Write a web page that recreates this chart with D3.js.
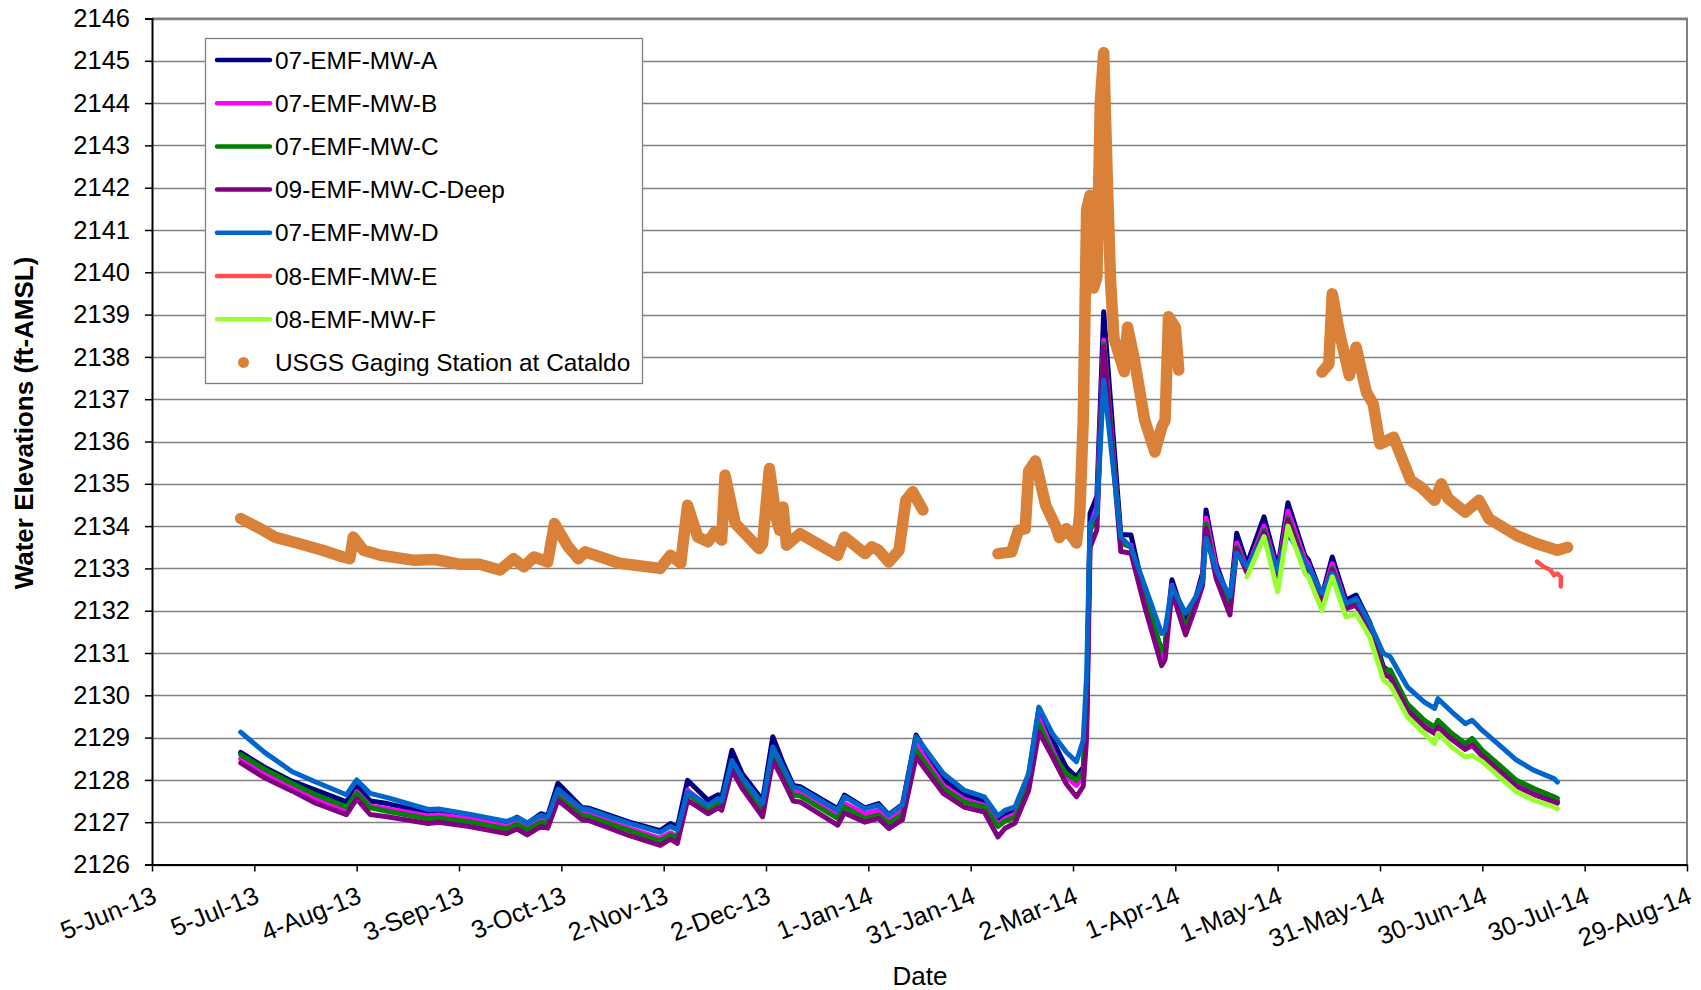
<!DOCTYPE html>
<html>
<head>
<meta charset="utf-8">
<script src="https://cdn.jsdelivr.net/npm/d3@7"></script>
<style>
body { margin: 0; background: #fff; }
text { font-family: "Liberation Sans", Arial, sans-serif; fill: #000; }
</style>
</head>
<body>
<script>
// ---- data ----
var wellDates = [
  "2013-07-01", "2013-07-08", "2013-07-16", "2013-07-23", "2013-08-01", "2013-08-04", "2013-08-08", "2013-08-13",
  "2013-08-25", "2013-08-28", "2013-09-06", "2013-09-17", "2013-09-20", "2013-09-23", "2013-09-27", "2013-09-29",
  "2013-10-02", "2013-10-09", "2013-10-11", "2013-10-23", "2013-11-01", "2013-11-04", "2013-11-06", "2013-11-09",
  "2013-11-15", "2013-11-18", "2013-11-19", "2013-11-22", "2013-11-25", "2013-12-01", "2013-12-04", "2013-12-07",
  "2013-12-10", "2013-12-12", "2013-12-23", "2013-12-25", "2013-12-31", "2014-01-04", "2014-01-07", "2014-01-11",
  "2014-01-15", "2014-01-23", "2014-01-29", "2014-02-04", "2014-02-08", "2014-02-10", "2014-02-13", "2014-02-17",
  "2014-02-20", "2014-02-24", "2014-02-28", "2014-03-03", "2014-03-05", "2014-03-06", "2014-03-07", "2014-03-09",
  "2014-03-11", "2014-03-16", "2014-03-19", "2014-03-23", "2014-03-28", "2014-03-29", "2014-03-31", "2014-04-04",
  "2014-04-07", "2014-04-09", "2014-04-10", "2014-04-13", "2014-04-17", "2014-04-19", "2014-04-22", "2014-04-27",
  "2014-05-01", "2014-05-04", "2014-05-09", "2014-05-10", "2014-05-14", "2014-05-17", "2014-05-21", "2014-05-24",
  "2014-05-28", "2014-06-01", "2014-06-03", "2014-06-08", "2014-06-13", "2014-06-16", "2014-06-17", "2014-06-21",
  "2014-06-25", "2014-06-27", "2014-06-30", "2014-07-05", "2014-07-10", "2014-07-15", "2014-07-21", "2014-07-22"
];

var mwA = [
  2128.65, 2128.30, 2127.97, 2127.76, 2127.48, 2127.85, 2127.50, 2127.44,
  2127.22, 2127.25, 2127.14, 2126.98, 2127.12, 2126.97, 2127.20, 2127.15,
  2127.92, 2127.35, 2127.33, 2127.00, 2126.80, 2126.97, 2126.88, 2127.99,
  2127.52, 2127.65, 2127.58, 2128.70, 2128.15, 2127.52, 2129.02, 2128.40,
  2127.87, 2127.84, 2127.32, 2127.64, 2127.34, 2127.44, 2127.18, 2127.42,
  2129.06, 2128.00, 2127.66, 2127.50, 2127.05, 2127.20, 2127.30, 2128.10,
  2129.68, 2128.94, 2128.30, 2128.07, 2128.30, 2129.60, 2134.30, 2134.70,
  2139.07, 2133.80, 2133.79, 2132.35, 2131.05, 2131.20, 2132.73, 2131.75,
  2132.30, 2132.90, 2134.38, 2133.10, 2132.20, 2133.83, 2133.10, 2134.22,
  2133.00, 2134.55, 2133.30, 2133.20, 2132.35, 2133.27, 2132.25, 2132.37,
  2131.72, 2130.67, 2130.55, 2129.73, 2129.33, 2129.17, 2129.33, 2129.03,
  2128.79, 2128.90, 2128.63, 2128.28, 2127.92, 2127.73, 2127.53, 2127.49
];

var mwB = [
  2128.50, 2128.15, 2127.83, 2127.55, 2127.28, 2127.72, 2127.38, 2127.32,
  2127.15, 2127.17, 2127.09, 2126.90, 2127.00, 2126.87, 2127.06, 2127.02,
  2127.64, 2127.22, 2127.20, 2126.85, 2126.62, 2126.75, 2126.66, 2127.76,
  2127.36, 2127.48, 2127.42, 2128.35, 2127.95, 2127.32, 2128.66, 2128.18,
  2127.72, 2127.70, 2127.17, 2127.44, 2127.20, 2127.28, 2127.05, 2127.26,
  2128.82, 2127.87, 2127.54, 2127.40, 2126.95, 2127.08, 2127.18, 2127.95,
  2129.45, 2128.70, 2128.07, 2127.87, 2128.10, 2129.40, 2134.00, 2134.46,
  2138.40, 2133.60, 2133.55, 2132.25, 2130.92, 2131.05, 2132.60, 2131.55,
  2132.20, 2132.80, 2134.19, 2133.00, 2132.10, 2133.60, 2132.98, 2134.00,
  2132.90, 2134.35, 2133.20, 2133.10, 2132.30, 2133.11, 2132.15, 2132.25,
  2131.62, 2130.56, 2130.48, 2129.70, 2129.30, 2129.14, 2129.30, 2129.00,
  2128.76, 2128.87, 2128.60, 2128.25, 2127.90, 2127.70, 2127.52, 2127.48
];

var mwC = [
  2128.60, 2128.25, 2127.92, 2127.65, 2127.36, 2127.68, 2127.34, 2127.26,
  2127.08, 2127.10, 2127.01, 2126.84, 2126.95, 2126.82, 2127.00, 2126.97,
  2127.60, 2127.16, 2127.14, 2126.80, 2126.56, 2126.70, 2126.62, 2127.68,
  2127.32, 2127.44, 2127.38, 2128.30, 2127.90, 2127.24, 2128.58, 2128.10,
  2127.64, 2127.62, 2127.09, 2127.36, 2127.09, 2127.17, 2126.97, 2127.18,
  2128.70, 2127.80, 2127.48, 2127.36, 2126.90, 2127.02, 2127.12, 2127.88,
  2129.33, 2128.62, 2128.15, 2127.99, 2128.20, 2129.50, 2133.90, 2134.20,
  2138.30, 2133.60, 2133.50, 2132.30, 2131.05, 2131.15, 2132.50, 2131.60,
  2132.15, 2132.70, 2134.05, 2132.85, 2132.05, 2133.50, 2132.95, 2133.90,
  2132.85, 2134.20, 2133.10, 2133.00, 2132.28, 2133.00, 2132.12, 2132.20,
  2131.60, 2130.59, 2130.60, 2129.80, 2129.41, 2129.25, 2129.41, 2129.10,
  2128.86, 2128.98, 2128.70, 2128.35, 2127.99, 2127.80, 2127.60, 2127.56
];

var mwCDeep = [
  2128.40, 2128.05, 2127.74, 2127.45, 2127.18, 2127.55, 2127.18, 2127.13,
  2126.97, 2127.00, 2126.90, 2126.73, 2126.84, 2126.70, 2126.90, 2126.86,
  2127.52, 2127.06, 2127.04, 2126.68, 2126.45, 2126.60, 2126.50, 2127.52,
  2127.20, 2127.34, 2127.28, 2128.23, 2127.80, 2127.13, 2128.46, 2128.00,
  2127.50, 2127.48, 2126.93, 2127.22, 2127.00, 2127.09, 2126.85, 2127.06,
  2128.54, 2127.68, 2127.36, 2127.24, 2126.65, 2126.85, 2126.98, 2127.75,
  2129.13, 2128.54, 2127.91, 2127.60, 2127.85, 2129.00, 2133.50, 2133.91,
  2138.24, 2133.40, 2133.36, 2132.10, 2130.70, 2130.85, 2132.45, 2131.43,
  2132.10, 2132.60, 2133.95, 2132.75, 2131.90, 2133.45, 2132.90, 2133.85,
  2132.80, 2134.14, 2133.05, 2132.95, 2132.22, 2132.96, 2132.05, 2132.13,
  2131.54, 2130.51, 2130.42, 2129.65, 2129.25, 2129.10, 2129.25, 2128.96,
  2128.72, 2128.82, 2128.56, 2128.21, 2127.85, 2127.66, 2127.48, 2127.45
];

var mwD = [
  2129.13, 2128.65, 2128.20, 2127.95, 2127.65, 2128.00, 2127.68, 2127.58,
  2127.30, 2127.31, 2127.19, 2127.02, 2127.11, 2126.98, 2127.16, 2127.12,
  2127.78, 2127.32, 2127.30, 2126.97, 2126.76, 2126.90, 2126.82, 2127.72,
  2127.40, 2127.56, 2127.50, 2128.46, 2128.05, 2127.44, 2128.78, 2128.30,
  2127.83, 2127.80, 2127.28, 2127.60, 2127.32, 2127.40, 2127.17, 2127.40,
  2129.02, 2128.15, 2127.76, 2127.60, 2127.15, 2127.28, 2127.36, 2128.15,
  2129.72, 2129.09, 2128.66, 2128.43, 2128.94, 2130.50, 2134.06, 2134.30,
  2137.45, 2133.74, 2133.50, 2132.60, 2131.46, 2131.54, 2132.57, 2131.94,
  2132.33, 2132.72, 2133.71, 2132.96, 2132.33, 2133.36, 2133.04, 2133.75,
  2132.95, 2133.85, 2133.12, 2133.04, 2132.41, 2132.88, 2132.17, 2132.29,
  2131.70, 2130.99, 2130.91, 2130.20, 2129.84, 2129.69, 2129.92, 2129.61,
  2129.33, 2129.41, 2129.17, 2128.82, 2128.47, 2128.23, 2128.03, 2127.95
];

// 08-EMF-MW-F only has readings from late April 2014
var mwF = [
  null, null, null, null, null, null, null, null,
  null, null, null, null, null, null, null, null,
  null, null, null, null, null, null, null, null,
  null, null, null, null, null, null, null, null,
  null, null, null, null, null, null, null, null,
  null, null, null, null, null, null, null, null,
  null, null, null, null, null, null, null, null,
  null, null, null, null, null, null, null, null,
  null, null, null, null, null, null, 2132.80, 2133.75,
  2132.45, 2134.00, 2132.88, 2132.80, 2132.01, 2132.80, 2131.85, 2131.93,
  2131.38, 2130.36, 2130.24, 2129.49, 2129.10, 2128.86, 2129.10, 2128.78,
  2128.54, 2128.58, 2128.43, 2128.07, 2127.72, 2127.52, 2127.36, 2127.32
];

var mwEDates = ["2014-07-16", "2014-07-18", "2014-07-20", "2014-07-21", "2014-07-22", "2014-07-23", "2014-07-23"];
var mwE = [2133.16, 2133.04, 2132.96, 2132.84, 2132.88, 2132.80, 2132.57];

// USGS gage, null marks the two gaps in the record
var usgsDates = [
  "2013-07-01", "2013-07-06", "2013-07-11", "2013-07-18", "2013-07-25", "2013-07-31", "2013-08-02", "2013-08-03",
  "2013-08-06", "2013-08-11", "2013-08-21", "2013-08-27", "2013-09-03", "2013-09-09", "2013-09-15", "2013-09-19",
  "2013-09-22", "2013-09-25", "2013-09-29", "2013-10-01", "2013-10-05", "2013-10-08", "2013-10-10", "2013-10-20",
  "2013-11-01", "2013-11-04", "2013-11-07", "2013-11-09", "2013-11-12", "2013-11-15", "2013-11-17", "2013-11-19",
  "2013-11-20", "2013-11-23", "2013-11-30", "2013-12-01", "2013-12-03", "2013-12-05", "2013-12-06", "2013-12-07",
  "2013-12-08", "2013-12-12", "2013-12-23", "2013-12-25", "2013-12-31", "2014-01-02", "2014-01-04", "2014-01-07",
  "2014-01-10", "2014-01-12", "2014-01-14", "2014-01-17", "2014-01-30",
  "2014-02-08", "2014-02-12", "2014-02-14", "2014-02-16", "2014-02-17", "2014-02-19", "2014-02-22", "2014-02-25",
  "2014-02-26", "2014-02-28", "2014-03-03", "2014-03-04", "2014-03-05", "2014-03-06", "2014-03-07", "2014-03-08",
  "2014-03-09", "2014-03-10", "2014-03-11", "2014-03-12", "2014-03-13", "2014-03-14", "2014-03-17", "2014-03-18",
  "2014-03-20", "2014-03-23", "2014-03-26", "2014-03-28", "2014-03-29", "2014-03-30", "2014-04-01", "2014-04-02",
  "2014-04-20",
  "2014-05-14", "2014-05-16", "2014-05-17", "2014-05-19", "2014-05-22", "2014-05-24", "2014-05-27", "2014-05-29",
  "2014-05-31", "2014-06-04", "2014-06-09", "2014-06-12", "2014-06-16", "2014-06-18", "2014-06-20", "2014-06-25",
  "2014-06-29", "2014-07-02", "2014-07-10", "2014-07-16", "2014-07-22", "2014-07-25"
];
var usgsLevels = [
  2134.18, 2133.97, 2133.74, 2133.59, 2133.43, 2133.27, 2133.23, 2133.74,
  2133.43, 2133.31, 2133.19, 2133.21, 2133.10, 2133.10, 2132.96, 2133.23,
  2133.04, 2133.27, 2133.15, 2134.06, 2133.51, 2133.23, 2133.39, 2133.12,
  2133.00, 2133.31, 2133.12, 2134.49, 2133.74, 2133.63, 2133.86, 2133.67,
  2135.20, 2134.06, 2133.47, 2133.59, 2135.36, 2134.18, 2133.90, 2134.45,
  2133.55, 2133.82, 2133.31, 2133.74, 2133.35, 2133.51, 2133.43, 2133.15,
  2133.43, 2134.61, 2134.81, 2134.38, null,
  2133.35, 2133.39, 2133.90, 2133.94, 2135.30, 2135.54, 2134.49, 2133.98,
  2133.73, 2133.94, 2133.60, 2134.30, 2136.50, 2141.48, 2141.82, 2139.63,
  2139.88, 2144.00, 2145.19, 2142.32, 2139.79, 2138.45, 2137.65, 2138.70,
  2137.94, 2136.51, 2135.75, 2136.34, 2136.51, 2138.95, 2138.70, 2137.69,
  null,
  2137.64, 2137.83, 2139.49, 2138.62, 2137.56, 2138.23, 2137.17, 2136.89,
  2135.94, 2136.10, 2135.08, 2134.92, 2134.61, 2135.00, 2134.65, 2134.33,
  2134.61, 2134.17, 2133.78, 2133.58, 2133.43, 2133.50
];

var seriesNames = ["07-EMF-MW-A", "07-EMF-MW-B", "07-EMF-MW-C", "09-EMF-MW-C-Deep",
  "07-EMF-MW-D", "08-EMF-MW-E", "08-EMF-MW-F", "USGS Gaging Station at Cataldo"];
var seriesColors = ["#000080", "#ff00ff", "#008000", "#800080", "#0066cc", "#ff5050", "#99ff33", "#da8139"];

var yTicks = [2126, 2127, 2128, 2129, 2130, 2131, 2132, 2133, 2134, 2135, 2136,
  2137, 2138, 2139, 2140, 2141, 2142, 2143, 2144, 2145, 2146];
var xTicks = ["2013-06-05", "2013-07-05", "2013-08-04", "2013-09-03", "2013-10-03", "2013-11-02",
  "2013-12-02", "2014-01-01", "2014-01-31", "2014-03-02", "2014-04-01", "2014-05-01",
  "2014-05-31", "2014-06-30", "2014-07-30", "2014-08-29"];

// ---- drawing ----
var parse = d3.timeParse("%Y-%m-%d");
var plotLeft = 152, plotRight = 1687, plotTop = 18.5, plotBottom = 864.5;

var svg = d3.select("body")
    .append("svg")
    .attr("width", 1701)
    .attr("height", 990);

var x = d3.scaleTime()
    .domain([parse(xTicks[0]), parse(xTicks[xTicks.length - 1])])
    .range([plotLeft, plotRight]);
var y = d3.scaleLinear()
    .domain([2126, 2146])
    .range([plotBottom, plotTop]);

// grid
svg.append("g")
    .selectAll("line")
    .data(yTicks)
    .enter()
    .append("line")
    .attr("x1", plotLeft)
    .attr("x2", plotRight)
    .attr("y1", function (d) { return Math.round(y(d)) + 0.5; })
    .attr("y2", function (d) { return Math.round(y(d)) + 0.5; })
    .attr("stroke", "#808080")
    .attr("stroke-width", 1.3);

// top and right border
svg.append("path")
    .attr("d", "M" + plotLeft + "," + plotTop + "H" + plotRight + "V" + plotBottom)
    .attr("fill", "none")
    .attr("stroke", "#808080")
    .attr("stroke-width", 2);

function pairs(dates, vals) {
    return dates.map(function (d, i) { return { date: parse(d), v: vals[i] }; });
}

var line = d3.line()
    .defined(function (d) { return d.v != null; })
    .x(function (d) { return x(d.date); })
    .y(function (d) { return y(d.v); });

var wells = [mwA, mwB, mwC, mwCDeep, mwD];
wells.forEach(function (vals, i) {
    svg.append("path")
        .attr("d", line(pairs(wellDates, vals)))
        .attr("fill", "none")
        .attr("stroke", seriesColors[i])
        .attr("stroke-width", 5)
        .attr("stroke-linejoin", "round")
        .attr("stroke-linecap", "round");
});

svg.append("path")
    .attr("d", line(pairs(mwEDates, mwE)))
    .attr("fill", "none")
    .attr("stroke", seriesColors[5])
    .attr("stroke-width", 4.5)
    .attr("stroke-linejoin", "round")
    .attr("stroke-linecap", "round");

svg.append("path")
    .attr("d", line(pairs(wellDates, mwF)))
    .attr("fill", "none")
    .attr("stroke", seriesColors[6])
    .attr("stroke-width", 5)
    .attr("stroke-linejoin", "round")
    .attr("stroke-linecap", "round");

// the gage readings are so dense that the markers merge into a band
svg.append("path")
    .attr("d", line(pairs(usgsDates, usgsLevels)))
    .attr("fill", "none")
    .attr("stroke", seriesColors[7])
    .attr("stroke-width", 11.5)
    .attr("stroke-linejoin", "round")
    .attr("stroke-linecap", "round");

// axes
var yAxis = svg.append("g")
    .attr("transform", "translate(" + plotLeft + ",0)")
    .call(d3.axisLeft(y).tickValues(yTicks).tickSize(7).tickPadding(15).tickFormat(d3.format("d")));
yAxis.select(".domain").attr("stroke", "#000").attr("stroke-width", 2);
yAxis.selectAll(".tick line").attr("stroke", "#000").attr("stroke-width", 1.5);
yAxis.selectAll("text")
    .attr("font-size", 25.5)
    .attr("font-family", "Liberation Sans, Arial, sans-serif");

var xAxis = svg.append("g")
    .attr("transform", "translate(0," + plotBottom + ")")
    .call(d3.axisBottom(x)
        .tickValues(xTicks.map(parse))
        .tickSize(7)
        .tickSizeOuter(0)
        .tickFormat(d3.timeFormat("%-d-%b-%y")));
xAxis.select(".domain").attr("stroke", "#000").attr("stroke-width", 2);
xAxis.selectAll(".tick line").attr("stroke", "#000").attr("stroke-width", 1.5);
xAxis.selectAll("text")
    .attr("font-size", 25.5)
    .attr("font-family", "Liberation Sans, Arial, sans-serif")
    .attr("text-anchor", "end")
    .attr("x", 0)
    .attr("y", 0)
    .attr("dy", "0.71em")
    .attr("transform", "translate(-1,21) rotate(-22)");

// axis titles
svg.append("text")
    .attr("transform", "translate(33,423) rotate(-90)")
    .attr("text-anchor", "middle")
    .attr("font-size", 26)
    .attr("font-weight", "bold")
    .text("Water Elevations (ft-AMSL)");

svg.append("text")
    .attr("x", 920)
    .attr("y", 985)
    .attr("text-anchor", "middle")
    .attr("font-size", 26)
    .text("Date");

// legend
var legend = svg.append("g");
legend.append("rect")
    .attr("x", 205.5)
    .attr("y", 38.5)
    .attr("width", 437)
    .attr("height", 345)
    .attr("fill", "#fff")
    .attr("stroke", "#808080")
    .attr("stroke-width", 1.3);

seriesNames.forEach(function (name, i) {
    var ly = 60 + i * 43.2;
    if (i < 7) {
        legend.append("line")
            .attr("x1", 217)
            .attr("x2", 270)
            .attr("y1", ly)
            .attr("y2", ly)
            .attr("stroke", seriesColors[i])
            .attr("stroke-width", 4.5)
            .attr("stroke-linecap", "round");
    } else {
        legend.append("circle")
            .attr("cx", 243.5)
            .attr("cy", ly)
            .attr("r", 5.5)
            .attr("fill", seriesColors[i]);
    }
    legend.append("text")
        .attr("x", 275)
        .attr("y", ly)
        .attr("dy", "0.35em")
        .attr("font-size", 24.4)
        .text(name);
});
</script>
</body>
</html>
